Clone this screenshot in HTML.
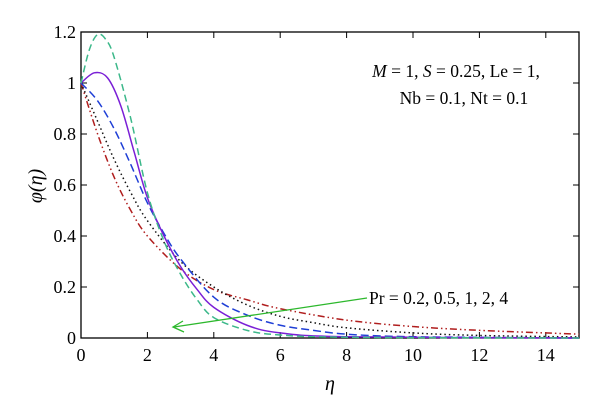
<!DOCTYPE html>
<html><head><meta charset="utf-8"><style>
html,body{margin:0;padding:0;background:#fff;}
svg{display:block;font-family:"Liberation Serif",serif;}
</style></head><body>
<svg id="chart" width="600" height="417" viewBox="0 0 600 417" xmlns="http://www.w3.org/2000/svg">
<g id="axes"></g>
<g id="series"></g>
<text x="456" y="77" font-size="17.5" text-anchor="middle"><tspan font-style="italic">M</tspan> = 1, <tspan font-style="italic">S</tspan> = 0.25, Le = 1,</text>
<text x="464" y="104" font-size="17.5" text-anchor="middle">Nb = 0.1, Nt = 0.1</text>
<line x1="367" y1="298" x2="174" y2="327" stroke="#2db82d" stroke-width="1.3"/>
<polyline points="183,321 173,327 184,332" fill="none" stroke="#2db82d" stroke-width="1.3"/>
<text x="369" y="304" font-size="17.5">Pr = 0.2, 0.5, 1, 2, 4</text>
<text transform="translate(42,186) rotate(-90)" font-size="20" text-anchor="middle" font-style="italic">φ(η)</text>
<text x="330" y="390" font-size="20" text-anchor="middle" font-style="italic">η</text>
</svg>
<script>
const xTicks=[0,2,4,6,8,10,12,14];
const yTicks=[0,0.2,0.4,0.6,0.8,1,1.2];
const yTickLabels=["0","0.2","0.4","0.6","0.8","1","1.2"];
const prValues=[0.2,0.5,1,2,4];
const etaPr02=[0,0.5,1,1.5,2,3,4,5,6,8,10,12,15];
const phiPr02=[1,0.8,0.63,0.5,0.4,0.27,0.19,0.15,0.115,0.07,0.045,0.03,0.015];
const etaPr05=[0,0.5,1,1.5,2,3,4,5,6,7,8,10,12,15];
const phiPr05=[1,0.85,0.7,0.57,0.46,0.3,0.2,0.13,0.085,0.06,0.04,0.02,0.01,0.004];
const etaPr1=[0,0.5,1,1.5,2,2.5,3,4,5,6,7,8,10,15];
const phiPr1=[1,0.93,0.82,0.68,0.53,0.41,0.31,0.16,0.09,0.05,0.03,0.015,0.005,0];
const etaPr2=[0,0.4,0.8,1.2,1.6,2,2.5,3,3.5,4,5,6,8,15];
const phiPr2=[1,1.04,1.02,0.91,0.73,0.55,0.4,0.28,0.19,0.12,0.05,0.02,0.005,0];
const etaPr4=[0,0.25,0.5,0.75,1,1.5,2,2.5,3,3.5,4,5,6,8,15];
const phiPr4=[1,1.13,1.19,1.17,1.1,0.86,0.57,0.38,0.25,0.15,0.08,0.03,0.012,0.003,0];

const X0=81,X1=579,Y0=338,Y1=32;
const xs=v=>X0+(v-0)/15*(X1-X0);
const ys=v=>Y0-(v/1.2)*(Y0-Y1);
const NS="http://www.w3.org/2000/svg";
const axes=document.getElementById('axes');
function mk(tag,attrs,parent){const e=document.createElementNS(NS,tag);for(const k in attrs)e.setAttribute(k,attrs[k]);parent.appendChild(e);return e;}
const frame=mk('rect',{x:X0,y:Y1,width:X1-X0,height:Y0-Y1,fill:'none',stroke:'#000','stroke-width':1.3},axes);


xTicks.forEach(t=>{
  const x=xs(t);
  const a=mk('line',{x1:x,x2:x,y1:Y0,y2:Y0-6,stroke:'#000'},axes);
  
  
  const b=mk('line',{x1:x,x2:x,y1:Y1,y2:Y1+6,stroke:'#000'},axes);
  
  
  const l=mk('text',{x:x,y:361,'font-size':18,'text-anchor':'middle'},axes);
  l.textContent=String(t);
  
  
});
yTicks.forEach((t,i)=>{
  const y=ys(t);
  const a=mk('line',{x1:X0,x2:X0+6,y1:y,y2:y,stroke:'#000'},axes);
  
  
  const b=mk('line',{x1:X1,x2:X1-6,y1:y,y2:y,stroke:'#000'},axes);
  
  
  const l=mk('text',{x:76,y:y+6,'font-size':18,'text-anchor':'end'},axes);
  l.textContent=yTickLabels[i];
  
  
});
function pathD(ex,ph){
  const p=ex.map((e,i)=>[xs(e),ys(ph[i])]);
  let d='M'+p[0][0]+','+p[0][1];
  for(let i=0;i<p.length-1;i++){
    const p0=p[Math.max(i-1,0)],p1=p[i],p2=p[i+1],p3=p[Math.min(i+2,p.length-1)];
    const c1=[p1[0]+(p2[0]-p0[0])/6,p1[1]+(p2[1]-p0[1])/6];
    const c2=[p2[0]-(p3[0]-p1[0])/6,p2[1]-(p3[1]-p1[1])/6];
    d+=' C'+c1+' '+c2+' '+p2;
  }
  return d;
}
const sg=document.getElementById('series');
const defs=[
 [etaPr02,phiPr02,'#b01e1e','7 3 1.5 3 1.5 3','series-pr-0-2'],
 [etaPr05,phiPr05,'#111','1.5 3','series-pr-0-5'],
 [etaPr1,phiPr1,'#1f3fd6','8 4','series-pr-1'],
 [etaPr2,phiPr2,'#7a1fd6','','series-pr-2'],
 [etaPr4,phiPr4,'#3cb88a','7 4','series-pr-4']
];
defs.forEach(d=>{
  const a={d:pathD(d[0],d[1]),fill:'none',stroke:d[2],'stroke-width':1.5};
  if(d[3])a['stroke-dasharray']=d[3];
  const e=mk('path',a,sg);
  
  
});
</script>
</body></html>
